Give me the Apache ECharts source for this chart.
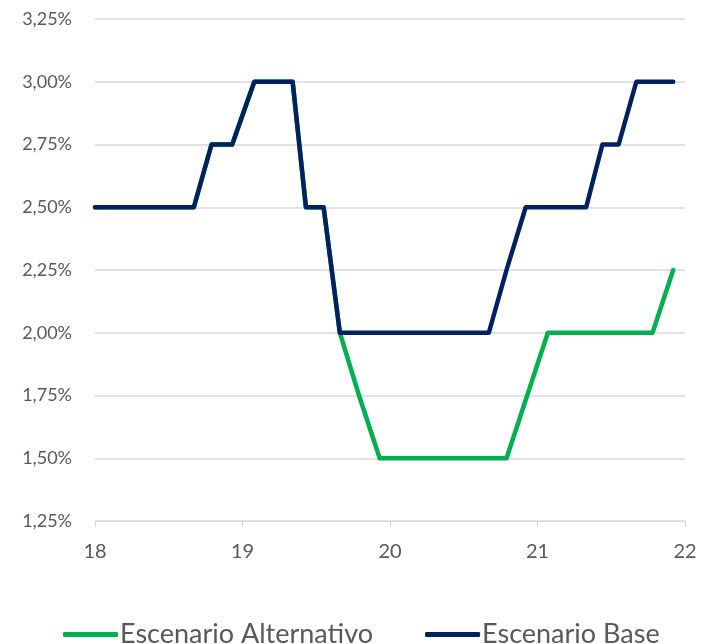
<!DOCTYPE html>
<html>
<head>
<meta charset="utf-8">
<script src="https://cdn.jsdelivr.net/npm/echarts@6/dist/echarts.min.js"></script>
<style>
  html, body { margin: 0; padding: 0; background: #fff; }
  #chart { width: 710px; height: 644px; }
</style>
</head>
<body>
<div id="chart"></div>
<script>
// años (18 = 2018), leídos como fracción de año
var baseX = [18.00, 18.67, 18.79, 18.93, 19.08, 19.34, 19.43, 19.55, 19.66, 20.67, 20.79, 20.92, 21.33, 21.44, 21.55, 21.67, 21.92];
var baseY = [2.50, 2.50, 2.75, 2.75, 3.00, 3.00, 2.50, 2.50, 2.00, 2.00, 2.25, 2.50, 2.50, 2.75, 2.75, 3.00, 3.00];

var altX = [18.00, 18.67, 18.79, 18.93, 19.08, 19.34, 19.43, 19.55, 19.66, 19.79, 19.93, 20.79, 20.93, 21.07, 21.78, 21.92];
var altY = [2.50, 2.50, 2.75, 2.75, 3.00, 3.00, 2.50, 2.50, 2.00, 1.75, 1.50, 1.50, 1.75, 2.00, 2.00, 2.25];

var seriesNames = ["Escenario Alternativo", "Escenario Base"];

function pares(xs, ys) {
  return xs.map(function (x, i) { return [x, ys[i]]; });
}

var chart = echarts.init(document.getElementById("chart"));
var option = {
  animation: false,
  textStyle: { fontFamily: "Lato" },
  grid: { left: 95, right: 25, top: 19, bottom: 123, containLabel: false },
  legend: {
    data: seriesNames,
    top: 616,
    left: 58,
    icon: "roundRect",
    itemWidth: 55,
    itemHeight: 5,
    itemGap: 52,
    textStyle: { color: "#595959", fontSize: 27, fontFamily: "Lato", padding: [0, 0, 0, -3] }
  },
  xAxis: {
    type: "value",
    min: 18,
    max: 22,
    interval: 1,
    axisLine: { show: true, lineStyle: { color: "#d9d9d9", width: 1 } },
    axisTick: { show: true, length: 6, lineStyle: { color: "#d9d9d9" } },
    splitLine: { show: false },
    axisLabel: { color: "#595959", fontSize: 20, margin: 21 }
  },
  yAxis: {
    type: "value",
    min: 1.25,
    max: 3.25,
    interval: 0.25,
    axisLine: { show: false },
    axisTick: { show: false },
    splitLine: { lineStyle: { color: "#d9d9d9", width: 1.5 } },
    axisLabel: {
      color: "#595959",
      fontSize: 18,
      margin: 23,
      formatter: function (v) { return v.toFixed(2).replace(".", ",") + "%"; }
    }
  },
  series: [
    {
      name: seriesNames[0],
      type: "line",
      data: pares(altX, altY),
      showSymbol: false,
      itemStyle: { color: "#00b050" },
      lineStyle: { color: "#00b050", width: 4.5, cap: "round", join: "round" }
    },
    {
      name: seriesNames[1],
      type: "line",
      data: pares(baseX, baseY),
      showSymbol: false,
      itemStyle: { color: "#002060" },
      lineStyle: { color: "#002060", width: 4.5, cap: "round", join: "round" }
    }
  ]
};
chart.setOption(option);
</script>
</body>
</html>
